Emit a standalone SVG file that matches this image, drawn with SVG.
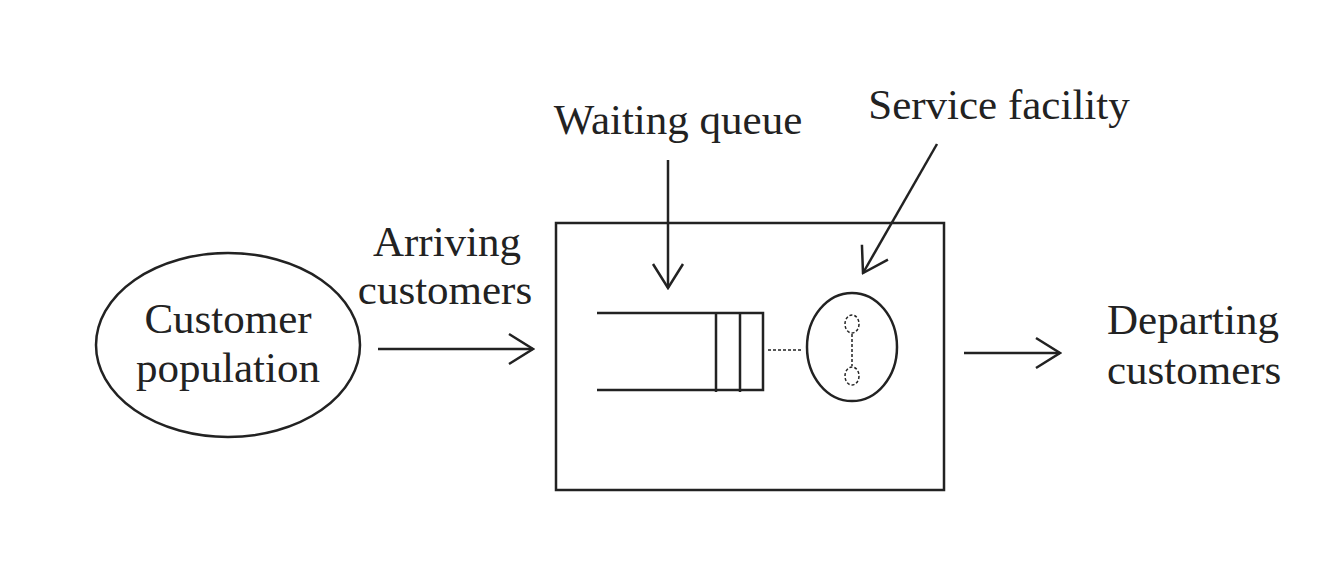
<svg xmlns="http://www.w3.org/2000/svg" width="1335" height="585" viewBox="0 0 1335 585">
<style>
.t{font-family:"Liberation Serif","Times New Roman",serif;font-size:43px;fill:#222}
.s{fill:none;stroke:#222;stroke-width:2.5}
.d{fill:none;stroke:#222;stroke-width:1.5;stroke-dasharray:3 2}
</style>
<defs>
<marker id="ah" viewBox="0 0 30 34" refX="28" refY="17" markerWidth="30" markerHeight="34" markerUnits="userSpaceOnUse" orient="auto">
<path d="M4 2 L28 17 L4 32" fill="none" stroke="#222" stroke-width="2.5"/>
</marker>
</defs>
<rect width="1335" height="585" fill="#fff"/>
<g id="population">
<ellipse class="s" cx="228" cy="345" rx="132" ry="92"/>
<text class="t" x="228" y="333" text-anchor="middle">Customer</text>
<text class="t" x="228" y="382" text-anchor="middle">population</text>
</g>
<g id="system">
<rect class="s" x="556" y="223" width="388" height="267"/>
</g>
<g id="queue">
<path class="s" d="M597 313 H763 V390 H597 M716 313 V392 M740 313 V392"/>
</g>
<g id="server">
<ellipse class="s" cx="852" cy="347" rx="45" ry="54"/>
<ellipse class="d" cx="852" cy="324" rx="7" ry="9"/>
<ellipse class="d" cx="852" cy="376" rx="7" ry="9"/>
<path class="d" d="M852 334 V366"/>
</g>
<g id="labels">
<text class="t" x="678" y="134" text-anchor="middle">Waiting queue</text>
<text class="t" x="999" y="119" text-anchor="middle">Service facility</text>
<text class="t" x="447" y="256" text-anchor="middle">Arriving</text>
<text class="t" x="445" y="304" text-anchor="middle">customers</text>
<text class="t" x="1107" y="334">Departing</text>
<text class="t" x="1107" y="384">customers</text>
</g>
<g id="connectors">
<path class="s" d="M378 349 H533" marker-end="url(#ah)"/>
<path class="s" d="M668 160 V288" marker-end="url(#ah)"/>
<path class="s" d="M937 144 L863 273" marker-end="url(#ah)"/>
<path class="s" d="M964 353 H1060" marker-end="url(#ah)"/>
<path class="d" d="M768 350 H803"/>
</g>
</svg>
